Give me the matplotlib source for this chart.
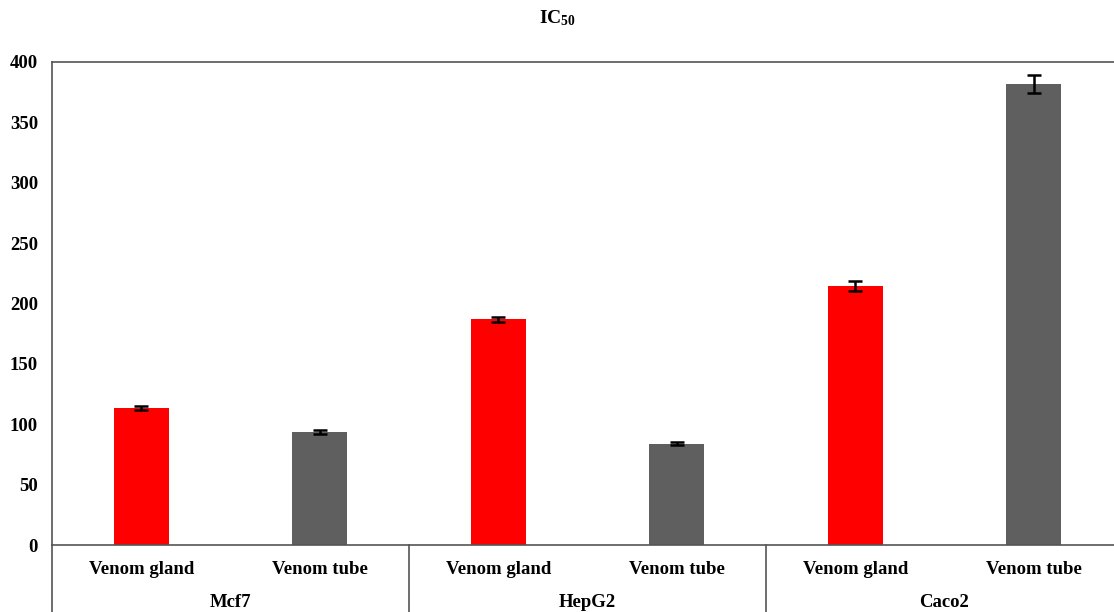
import matplotlib.pyplot as plt
import matplotlib.transforms as mtransforms

# data
cell_lines = ["Mcf7", "HepG2", "Caco2"]
sources = ["Venom gland", "Venom tube"]
gland_vals = [113.5, 187.0, 214.5]
gland_err = [2.0, 2.0, 4.0]
tube_vals = [93.5, 84.0, 381.5]
tube_err = [1.5, 1.5, 7.5]

plt.rcParams['font.family'] = ['Liberation Serif', 'DejaVu Serif']
plt.rcParams['font.weight'] = 'bold'
plt.rcParams['mathtext.fontset'] = 'custom'
plt.rcParams['mathtext.rm'] = 'Liberation Serif:bold'
plt.rcParams['mathtext.bf'] = 'Liberation Serif:bold'
plt.rcParams['mathtext.it'] = 'Liberation Serif:bold'

fig = plt.figure(figsize=(11.14, 6.12), dpi=100)
W, H = 1114, 612
ax = fig.add_axes([52 / W, (H - 545) / H, (1123 - 52) / W, 483 / H])

xs_gland = [2 * i for i in range(len(cell_lines))]
xs_tube = [2 * i + 1 for i in range(len(cell_lines))]

ax.bar(xs_gland, gland_vals, width=0.31, color="#ff0000")
ax.bar(xs_tube, tube_vals, width=0.31, color="#5f5f5f")
ax.errorbar(xs_gland, gland_vals, yerr=gland_err, fmt="none", ecolor="black",
            elinewidth=1.8, capsize=5, capthick=1.8)
ax.errorbar(xs_tube, tube_vals, yerr=tube_err, fmt="none", ecolor="black",
            elinewidth=1.8, capsize=5, capthick=1.8)

ax.set_xlim(-0.5, 2 * len(cell_lines) - 0.5)
ax.set_ylim(0, 400)
ax.set_yticks(range(0, 401, 50))
ax.tick_params(axis='y', length=0, labelsize=13.5, pad=10)
ax.tick_params(axis='x', length=0, labelsize=13.5, pad=11.5)

ticks = []
labels = []
for i in range(len(cell_lines)):
    ticks += [2 * i, 2 * i + 1]
    labels += sources
ax.set_xticks(ticks)
ax.set_xticklabels(labels)

for s in ax.spines.values():
    s.set_color("#555555")
    s.set_linewidth(1.2)

# group labels and separators under the axis
trans = mtransforms.blended_transform_factory(ax.transData, ax.transAxes)
for i, name in enumerate(cell_lines):
    ax.text(2 * i + 0.5, -0.12, name, transform=trans, ha="center", va="center",
            fontsize=13.5, fontweight="bold")
for b in [-0.5, 1.5, 3.5]:
    ax.plot([b, b], [0, -0.2], transform=trans, color="#555555", lw=1.2,
            clip_on=False)

fig.text(0.5, 1 - 18 / H, "IC$_{50}$", ha="center", va="center",
         fontsize=14, fontweight="bold")

fig.savefig("out.png", dpi=100)
